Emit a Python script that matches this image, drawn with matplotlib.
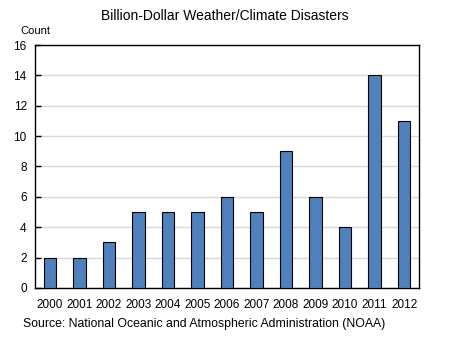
import matplotlib
matplotlib.use("Agg")
import matplotlib.pyplot as plt

plt.rcParams['font.family'] = ['Liberation Sans', 'DejaVu Sans']

years = ["2000", "2001", "2002", "2003", "2004", "2005", "2006",
         "2007", "2008", "2009", "2010", "2011", "2012"]
counts = [2, 2, 3, 5, 5, 5, 6, 5, 9, 6, 4, 14, 11]
y_ticks = [0, 2, 4, 6, 8, 10, 12, 14, 16]

fig = plt.figure(figsize=(4.49, 3.44), dpi=100)
ax = fig.add_axes([0.078, 0.163, 0.855, 0.706])

x = range(len(years))
ax.bar(x, counts, width=0.42, color="#4F81BD", edgecolor="black", linewidth=0.8, zorder=3)

ax.set_xlim(-0.5, len(years) - 0.5)
ax.set_ylim(0, 16)
ax.set_yticks(y_ticks)
ax.set_xticks(list(x))
ax.set_xticklabels(years)
ax.yaxis.grid(True, color="#d9d9d9", linewidth=1.0, zorder=0)
ax.set_axisbelow(True)
ax.tick_params(axis="y", direction="in", length=4, width=1, labelsize=8.5, pad=6)
ax.tick_params(axis="x", length=0, labelsize=8.5, pad=8)
for s in ax.spines.values():
    s.set_linewidth(1.0)
    s.set_color("black")

fig.text(0.5, 0.953, "Billion-Dollar Weather/Climate Disasters", ha="center", va="center", fontsize=10)
fig.text(0.045, 0.91, "Count", ha="left", va="center", fontsize=8)
fig.text(0.051, 0.058, "Source: National Oceanic and Atmospheric Administration (NOAA)",
         ha="left", va="center", fontsize=8.8)

fig.savefig("out.png", dpi=100)
